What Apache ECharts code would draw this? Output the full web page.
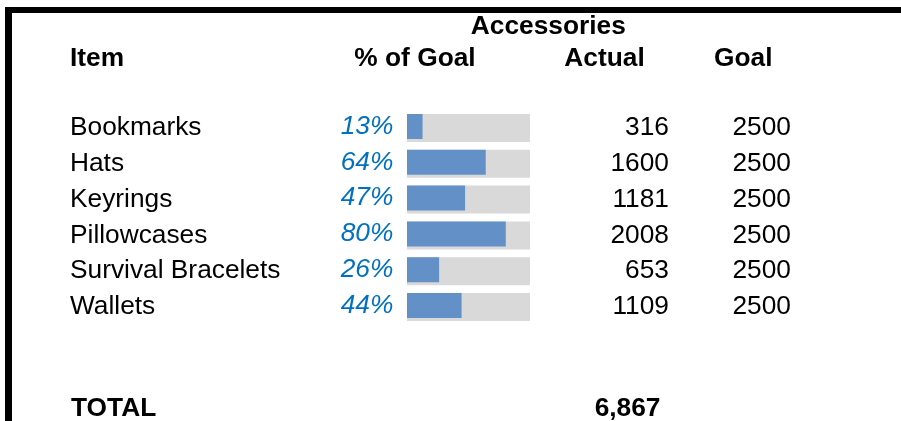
<!DOCTYPE html>
<html>
<head>
<meta charset="utf-8">
<script src="https://cdn.jsdelivr.net/npm/echarts@6/dist/echarts.min.js"></script>
<style>
html,body{margin:0;padding:0;background:#fff;}
#c{width:901px;height:421px;}
</style>
</head>
<body>
<div id="c"></div>
<script>
// ---- data ----
var groupTitle = 'Accessories';
var headers = ['Item', '% of Goal', 'Actual', 'Goal'];
var items = ['Bookmarks', 'Hats', 'Keyrings', 'Pillowcases', 'Survival Bracelets', 'Wallets'];
var actual = [316, 1600, 1181, 2008, 653, 1109];
var goal = [2500, 2500, 2500, 2500, 2500, 2500];
var totalLabel = 'TOTAL';

// ---- derived ----
var pct = actual.map(function (a, i) { return a / goal[i] * 100; });
var full = goal.map(function (g, i) { return g / goal[i] * 100; });
var total = actual.reduce(function (s, v) { return s + v; }, 0);

var FONT = '"Liberation Sans", Arial, Helvetica, sans-serif';
var FS = 26.3;

var chart = echarts.init(document.getElementById('c'), null, { renderer: 'canvas' });

var rowPitch = 35.8;
var gridTop = 110.1;
var gridH = rowPitch * items.length;

function hiddenCatAxis(gridIndex, data, position, labelOpt) {
  return {
    type: 'category',
    gridIndex: gridIndex,
    data: data,
    inverse: true,
    position: position,
    axisLine: { show: false },
    axisTick: { show: false },
    splitLine: { show: false },
    axisLabel: Object.assign({
      show: !!labelOpt,
      color: '#000',
      fontFamily: FONT,
      fontSize: FS
    }, labelOpt || {})
  };
}

var option = {
  animation: false,
  backgroundColor: '#fff',
  grid: [
    { left: 407, width: 123, top: gridTop, height: gridH },
    { left: 407, width: 123, top: gridTop - 1.5, height: gridH }
  ],
  xAxis: [
    { type: 'value', gridIndex: 0, min: 0, max: 100, show: false },
    { type: 'value', gridIndex: 1, min: 0, max: 100, show: false }
  ],
  yAxis: [
    hiddenCatAxis(0, items, 'left', { align: 'left', margin: 337, padding: [2, 0, 0, 0] }),
    hiddenCatAxis(0, actual.map(String), 'right', { align: 'right', margin: 139, padding: [2, 0, 0, 0] }),
    hiddenCatAxis(0, goal.map(String), 'right', { align: 'right', margin: 261, padding: [2, 0, 0, 0] }),
    hiddenCatAxis(1, items, 'left', null)
  ],
  series: [
    {
      type: 'bar',
      xAxisIndex: 0,
      yAxisIndex: 0,
      data: full,
      barWidth: 28,
      itemStyle: { color: '#D9D9D9' },
      silent: true
    },
    {
      type: 'bar',
      xAxisIndex: 1,
      yAxisIndex: 3,
      data: pct,
      barWidth: 25,
      itemStyle: { color: '#6490C8' },
      silent: true,
      label: {
        show: true,
        position: 'left',
        distance: 13.7,
        padding: [2, 0, 0, 0],
        formatter: function (p) { return Math.round(p.value) + '%'; },
        color: '#0070C0',
        fontStyle: 'italic',
        fontFamily: FONT,
        fontSize: FS
      }
    }
  ],
  graphic: [
    { type: 'rect', shape: { x: 5, y: 7, width: 896, height: 6 }, style: { fill: '#000' } },
    { type: 'rect', shape: { x: 5, y: 7, width: 7, height: 414 }, style: { fill: '#000' } },
    { type: 'text', x: 548.3, y: 27, style: { text: groupTitle, fill: '#000', font: 'bold ' + FS + 'px ' + FONT, textAlign: 'center', textVerticalAlign: 'middle' } },
    { type: 'text', x: 70, y: 59, style: { text: headers[0], fill: '#000', font: 'bold ' + FS + 'px ' + FONT, textAlign: 'left', textVerticalAlign: 'middle' } },
    { type: 'text', x: 415, y: 59, style: { text: headers[1], fill: '#000', font: 'bold ' + FS + 'px ' + FONT, textAlign: 'center', textVerticalAlign: 'middle' } },
    { type: 'text', x: 604.5, y: 59, style: { text: headers[2], fill: '#000', font: 'bold ' + FS + 'px ' + FONT, textAlign: 'center', textVerticalAlign: 'middle' } },
    { type: 'text', x: 743.3, y: 59, style: { text: headers[3], fill: '#000', font: 'bold ' + FS + 'px ' + FONT, textAlign: 'center', textVerticalAlign: 'middle' } },
    { type: 'text', x: 71, y: 409, style: { text: totalLabel, fill: '#000', font: 'bold ' + FS + 'px ' + FONT, textAlign: 'left', textVerticalAlign: 'middle' } },
    { type: 'text', x: 660.5, y: 409, style: { text: total.toLocaleString('en-US'), fill: '#000', font: 'bold ' + FS + 'px ' + FONT, textAlign: 'right', textVerticalAlign: 'middle' } }
  ]
};

chart.setOption(option);
</script>
</body>
</html>
